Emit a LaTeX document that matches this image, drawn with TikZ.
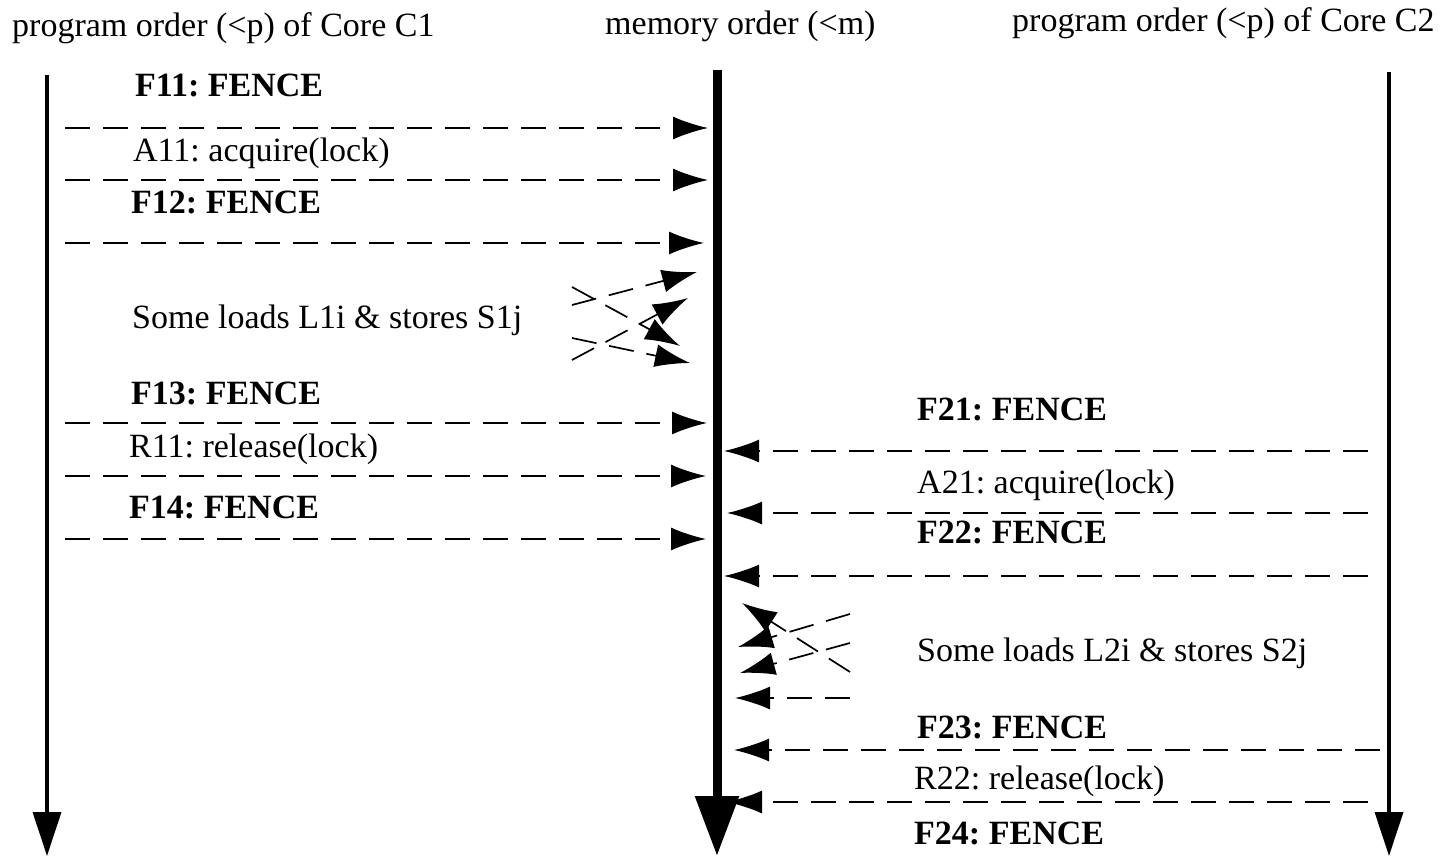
\documentclass[tikz,border=0pt]{standalone}
\usepackage{fontspec}
\setmainfont{Liberation Serif}
\usetikzlibrary{arrows.meta}
\frenchspacing
\begin{document}
\begin{tikzpicture}[x=1pt,y=-1pt,
  lbl/.style={anchor=base west, inner sep=0pt, font=\fontsize{34}{40}\selectfont},
  fen/.style={anchor=base west, inner sep=0pt, font=\fontsize{34}{40}\selectfont\bfseries},
  msg/.style={line width=1.7pt, dash pattern=on 25pt off 13pt, -{Latex[length=35pt,width=23pt]}},
  axisline/.style={line width=3.5pt, -{Triangle[length=44pt,width=28pt]}},
  memline/.style={line width=9pt, -{Triangle[length=60pt,width=42pt]}}]
\useasboundingbox (0,0) rectangle (1451,856);

% column headings
\node[lbl] (h1) at (12,37) {program order (<p) of Core C1};
\node[lbl] (h2) at (605,35) {memory order (<m)};
\node[lbl] (h3) at (1012,32) {program order (<p) of Core C2};

% time axes
\coordinate (c1top) at (47,75);   \coordinate (c1bot) at (47,856);
\coordinate (mtop)  at (717,70);  \coordinate (mbot)  at (717,856);
\coordinate (c2top) at (1389,72); \coordinate (c2bot) at (1389,856);
\draw[axisline] (c1top) -- (c1bot);
\draw[memline]  (mtop) -- (mbot);
\draw[axisline] (c2top) -- (c2bot);

% core C1 operations
\node[fen] (f11) at (135,97)  {F11: FENCE};
\node[lbl] (a11) at (133,161) {A11: acquire(lock)};
\node[fen] (f12) at (131,213) {F12: FENCE};
\node[lbl] (ls1) at (132,328) {Some loads L1i \& stores S1j};
\node[fen] (f13) at (131,404) {F13: FENCE};
\node[lbl] (r11) at (129,457) {R11: release(lock)};
\node[fen] (f14) at (129,518) {F14: FENCE};

\foreach \n/\y/\e in {p1/128/708, p2/180/708, p3/243/704, p4/423/707, p5/476/706, p6/539/706}{
  \coordinate (\n s) at (65,\y);
  \coordinate (\n e) at (\e,\y);
  \draw[msg] (\n s) -- (\n e);
}
% reordered loads/stores of C1
\coordinate (q1s) at (572,305); \coordinate (q1e) at (697,272);
\coordinate (q2s) at (572,287); \coordinate (q2e) at (680,346);
\coordinate (q3s) at (572,360); \coordinate (q3e) at (688,298);
\coordinate (q4s) at (572,338); \coordinate (q4e) at (690,363);
\foreach \n in {q1,q2,q3,q4}{\draw[msg] (\n s) -- (\n e);}

% core C2 operations
\node[fen] (f21) at (917,420) {F21: FENCE};
\node[lbl] (a21) at (917,493) {A21: acquire(lock)};
\node[fen] (f22) at (917,543) {F22: FENCE};
\node[lbl] (ls2) at (917,661) {Some loads L2i \& stores S2j};
\node[fen] (f23) at (917,738) {F23: FENCE};
\node[lbl] (r22) at (914,789) {R22: release(lock)};
\node[fen] (f24) at (914,844) {F24: FENCE};

\foreach \n/\y/\s/\e in {t1/451/1368/724, t2/513/1368/727, t3/576/1368/724, t4/750/1380/734, t5/802/1368/727}{
  \coordinate (\n s) at (\s,\y);
  \coordinate (\n e) at (\e,\y);
  \draw[msg] (\n s) -- (\n e);
}
% reordered loads/stores of C2
\coordinate (u1s) at (850,672); \coordinate (u1e) at (742,603);
\coordinate (u2s) at (850,614); \coordinate (u2e) at (738,647);
\coordinate (u3s) at (850,643); \coordinate (u3e) at (740,673);
\coordinate (u4s) at (850,698); \coordinate (u4e) at (735,698);
\foreach \n in {u1,u2,u3,u4}{\draw[msg] (\n s) -- (\n e);}
\end{tikzpicture}
\end{document}
